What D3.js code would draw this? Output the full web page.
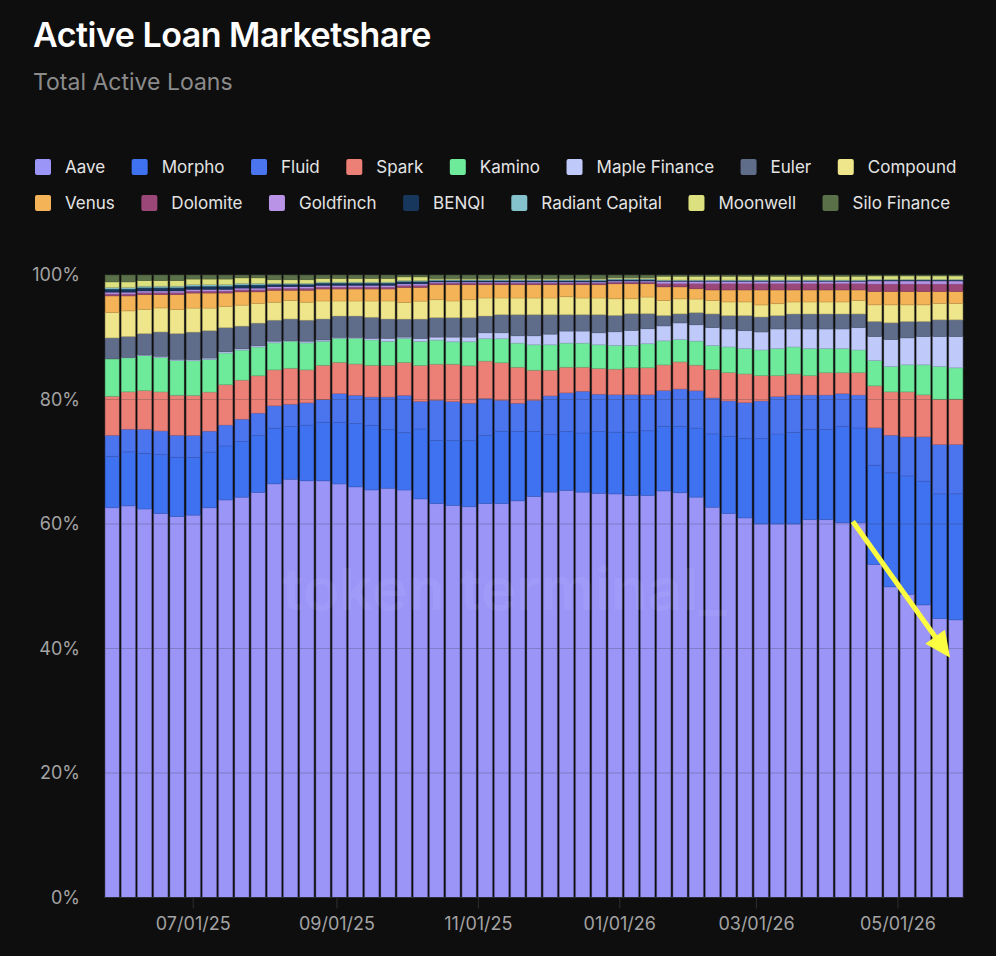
<!DOCTYPE html>
<html>
<head>
<meta charset="utf-8">
<script src="https://cdn.jsdelivr.net/npm/d3@7"></script>
<style>
  body { margin: 0; background: #0e0e0e; }
  svg { display: block; font-family: Inter, "Noto Sans", sans-serif; }
</style>
</head>
<body>
<svg id="chart" width="996" height="956"></svg>
<script>
// protocols, bottom of the stack first
const protocols = ["Aave", "Morpho", "Fluid", "Spark", "Kamino", "Maple Finance", "Euler", "Compound",
  "Venus", "Dolomite", "Goldfinch", "BENQI", "Radiant Capital", "Moonwell", "Silo Finance"];
const protocolColors = ["#9b95f8", "#3f72f1", "#4b74ef", "#ec8077", "#6deb9b", "#bfcafb", "#5f6c8a", "#efe58a",
  "#f4b357", "#9b4879", "#b893e6", "#17375d", "#84c3cb", "#dde07e", "#5a7049"];

const firstWeek = "2025-05-27";  // weekly bars

// share of active loans, % (53 weeks)
const aave = [62.6, 62.9, 62.4, 61.7, 61.2, 61.4, 62.6, 63.9, 64.3, 65.1,
  66.5, 67.2, 67.0, 67.0, 66.5, 66.0, 65.5, 65.8, 65.5, 64.1,
  63.2, 62.9, 62.7, 63.2, 63.2, 63.6, 64.3, 65.0, 65.3, 65.0,
  64.8, 64.8, 64.6, 64.6, 65.3, 65.0, 64.3, 62.7, 61.7, 61.0,
  60.0, 60.0, 60.0, 60.7, 60.7, 60.2, 60.2, 53.5, 49.9, 48.7,
  47.0, 44.8, 44.6];
const morpho = [8.25, 8.67, 8.94, 9.48, 9.53, 9.26, 8.94, 8.67, 8.94, 9.16,
  8.94, 8.46, 8.94, 9.42, 9.91, 10.17, 10.39, 9.42, 9.21, 11.24,
  10.12, 10.39, 10.6, 10.92, 11.62, 11.14, 10.44, 9.21, 9.42, 9.48,
  9.91, 9.91, 10.17, 10.39, 10.39, 10.66, 11.08, 11.78, 12.42, 12.74,
  13.71, 14.46, 14.73, 14.51, 14.51, 15.48, 15.21, 15.96, 18.31, 19.01,
  19.87, 20.03, 20.24];
const fluid = [3.37, 3.64, 3.86, 3.8, 3.53, 3.53, 3.37, 3.37, 3.59, 3.59,
  3.59, 3.59, 3.59, 3.64, 4.61, 4.55, 4.55, 5.25, 6.0, 4.44,
  6.48, 6.27, 6.0, 5.94, 4.98, 4.5, 4.98, 6.21, 6.21, 6.69,
  6.0, 6.0, 6.0, 5.78, 5.73, 6.0, 6.0, 5.78, 5.68, 5.78,
  6.05, 6.0, 6.0, 5.52, 5.52, 5.25, 5.3, 6.0, 6.05, 6.27,
  7.12, 7.93, 7.93];
const spark = [6.27, 6.0, 6.21, 6.27, 6.43, 6.43, 6.27, 6.48, 6.27, 6.0,
  5.78, 5.78, 5.3, 5.52, 5.03, 5.03, 5.09, 5.09, 5.3, 5.78,
  5.78, 6.0, 6.0, 6.0, 6.0, 5.78, 4.82, 4.12, 4.12, 3.86,
  4.12, 4.12, 4.34, 4.34, 4.12, 4.34, 4.12, 4.55, 4.55, 4.61,
  4.07, 3.37, 3.37, 3.11, 3.59, 3.37, 3.59, 6.75, 6.96, 7.23,
  6.75, 7.28, 7.28];
const kamino = [6.0, 5.46, 5.62, 5.52, 5.57, 5.57, 5.25, 5.09, 4.82, 4.61,
  4.34, 4.34, 4.34, 3.86, 3.86, 4.12, 4.07, 3.86, 3.86, 3.86,
  3.86, 3.59, 3.86, 3.59, 3.86, 3.86, 4.07, 4.07, 3.86, 3.86,
  3.8, 3.8, 3.59, 3.86, 3.86, 3.59, 3.86, 3.86, 4.12, 4.07,
  4.12, 4.34, 4.34, 4.34, 3.86, 3.86, 3.64, 4.07, 4.07, 4.34,
  4.82, 5.25, 5.03];
const maple = [0, 0.05, 0.1, 0.21, 0.21, 0.21, 0.21, 0.21, 0.21, 0.21,
  0.27, 0.1, 0.27, 0.21, 0.16, 0.16, 0.27, 0.48, 0.21, 0.48,
  0.48, 0.75, 0.75, 0.96, 0.96, 1.18, 1.45, 1.71, 1.93, 1.93,
  1.93, 2.2, 2.41, 2.41, 2.41, 2.68, 2.62, 2.89, 2.89, 2.89,
  2.89, 3.16, 2.89, 3.16, 3.16, 3.16, 3.59, 3.86, 4.34, 4.34,
  4.55, 4.82, 5.03];
const euler = [3.37, 3.37, 3.43, 3.91, 4.12, 4.39, 4.39, 3.86, 3.64, 3.64,
  3.37, 3.48, 3.37, 3.37, 3.43, 3.43, 3.37, 3.11, 2.89, 3.11,
  3.11, 3.11, 3.11, 2.68, 2.89, 3.37, 3.37, 3.11, 2.62, 2.62,
  2.89, 2.62, 2.68, 2.41, 1.66, 1.45, 1.93, 2.2, 2.14, 2.41,
  2.41, 2.14, 2.41, 2.41, 2.41, 2.41, 2.2, 2.41, 2.68, 2.62,
  2.41, 2.68, 2.68];
const compound = [4.07, 4.12, 3.91, 3.86, 3.86, 3.86, 3.64, 3.43, 3.37, 3.16,
  2.89, 2.95, 2.89, 2.89, 2.41, 2.41, 2.62, 2.89, 2.68, 2.89,
  2.89, 2.68, 2.89, 2.89, 2.68, 2.68, 2.68, 2.68, 2.89, 2.68,
  2.68, 2.68, 2.41, 2.68, 2.41, 2.41, 2.2, 2.14, 2.2, 2.2,
  1.93, 1.93, 1.93, 1.93, 1.93, 1.93, 2.14, 2.68, 2.89, 2.68,
  2.68, 2.62, 2.62];
const venus = [2.68, 2.41, 2.36, 2.14, 2.41, 2.41, 2.41, 2.14, 2.14, 1.87,
  1.93, 1.66, 1.93, 1.93, 1.93, 1.93, 1.93, 1.93, 2.41, 2.2,
  2.41, 2.62, 2.41, 2.14, 2.14, 2.14, 2.14, 2.14, 1.93, 2.14,
  2.14, 2.41, 2.41, 2.14, 2.2, 1.93, 1.66, 1.71, 1.93, 1.93,
  2.41, 2.2, 1.93, 1.93, 1.93, 1.93, 1.71, 2.14, 2.14, 2.14,
  2.14, 1.93, 1.93];
const dolomite = [0.3, 0.3, 0.3, 0.3, 0.3, 0.3, 0.3, 0.3, 0.3, 0.3,
  0.3, 0.3, 0.3, 0.3, 0.3, 0.3, 0.3, 0.3, 0.3, 0.3,
  0.25, 0.25, 0.25, 0.25, 0.25, 0.25, 0.25, 0.25, 0.25, 0.25,
  0.25, 0.25, 0.25, 0.25, 0.5, 0.5, 0.8, 1.0, 1.0, 1.0,
  1.0, 1.0, 1.0, 1.0, 1.0, 1.0, 1.0, 1.2, 1.2, 1.2,
  1.2, 1.2, 1.2];
const goldfinch = [0.3, 0.3, 0.3, 0.3, 0.3, 0.3, 0.3, 0.3, 0.3, 0.3,
  0.3, 0.3, 0.3, 0.3, 0.3, 0.3, 0.3, 0.3, 0.3, 0.3,
  0.2, 0.2, 0.2, 0.2, 0.2, 0.2, 0.2, 0.2, 0.2, 0.2,
  0.2, 0.2, 0.2, 0.2, 0.4, 0.4, 0.4, 0.4, 0.4, 0.4,
  0.4, 0.4, 0.4, 0.4, 0.4, 0.4, 0.4, 0.5, 0.5, 0.5,
  0.5, 0.5, 0.5];
const benqi = [0.5, 0.5, 0.5, 0.5, 0.5, 0.5, 0.5, 0.5, 0.5, 0.5,
  0.35, 0.35, 0.35, 0.35, 0.35, 0.35, 0.35, 0.35, 0.35, 0.35,
  0.2, 0.2, 0.2, 0.2, 0.2, 0.2, 0.2, 0.2, 0.2, 0.2,
  0.2, 0.2, 0.2, 0.2, 0.1, 0.1, 0.1, 0.1, 0.1, 0.1,
  0.1, 0.1, 0.1, 0.1, 0.1, 0.1, 0.1, 0.15, 0.15, 0.15,
  0.15, 0.15, 0.15];
const radiant = [0.25, 0.25, 0.25, 0.25, 0.25, 0.25, 0.25, 0.25, 0.25, 0.25,
  0.15, 0.15, 0.15, 0.15, 0.15, 0.15, 0.15, 0.15, 0.15, 0.15,
  0.15, 0.15, 0.15, 0.15, 0.15, 0.15, 0.15, 0.15, 0.15, 0.15,
  0.15, 0.15, 0.15, 0.15, 0.1, 0.1, 0.1, 0.1, 0.1, 0.1,
  0.1, 0.1, 0.1, 0.1, 0.1, 0.1, 0.1, 0.1, 0.1, 0.1,
  0.1, 0.1, 0.1];
const moonwell = [0.9, 0.9, 0.9, 0.9, 0.9, 0.9, 0.9, 0.9, 0.9, 0.9,
  0.6, 0.6, 0.6, 0.6, 0.6, 0.6, 0.6, 0.6, 0.6, 0.6,
  0.2, 0.2, 0.2, 0.2, 0.2, 0.2, 0.2, 0.2, 0.2, 0.2,
  0.2, 0.2, 0.2, 0.2, 0.6, 0.6, 0.6, 0.6, 0.6, 0.6,
  0.6, 0.6, 0.6, 0.6, 0.6, 0.6, 0.6, 0.55, 0.55, 0.55,
  0.55, 0.55, 0.55];
const silo = [1.1, 1.1, 0.9, 0.9, 0.9, 0.65, 0.65, 0.65, 0.45, 0.45,
  0.75, 0.75, 0.75, 0.55, 0.55, 0.55, 0.55, 0.55, 0.3, 0.3,
  0.55, 0.55, 0.55, 0.55, 0.55, 0.55, 0.55, 0.55, 0.55, 0.55,
  0.55, 0.4, 0.4, 0.4, 0.2, 0.2, 0.2, 0.2, 0.2, 0.2,
  0.2, 0.2, 0.2, 0.2, 0.2, 0.2, 0.2, 0.15, 0.15, 0.15,
  0.15, 0.15, 0.15];

const seriesValues = [aave, morpho, fluid, spark, kamino, maple, euler, compound,
  venus, dolomite, goldfinch, benqi, radiant, moonwell, silo];

const tickDates = ["2025-07-01", "2025-09-01", "2025-11-01", "2026-01-01", "2026-03-01", "2026-05-01"];
const yTicks = [0, 0.2, 0.4, 0.6, 0.8, 1];

// annotation arrow, in (week index, share) terms
const arrowFrom = [45.65, 0.604];
const arrowTo = [51.65, 0.385];

const width = 996, height = 956;
const margin = {top: 275, right: 32, bottom: 58.5, left: 104};

const svg = d3.select("#chart");
svg.append("rect").attr("width", width).attr("height", height).attr("fill", "#0e0e0e");

const parse = d3.utcParse("%Y-%m-%d");
const week0 = parse(firstWeek);
const weeks = aave.map((d, i) => d3.utcDay.offset(week0, 7 * i));

const rows = weeks.map((date, i) => {
  let r = {date: date};
  protocols.forEach((p, j) => r[p] = seriesValues[j][i]);
  return r;
});

const stacked = d3.stack().keys(protocols).offset(d3.stackOffsetExpand)(rows);

let x = d3.scaleUtc()
  .domain([d3.utcHour.offset(weeks[0], -84), d3.utcHour.offset(weeks[weeks.length - 1], 84)])
  .range([margin.left, width - margin.right]);
let y = d3.scaleLinear().domain([0, 1]).range([height - margin.bottom, margin.top]);
let color = d3.scaleOrdinal().domain(protocols).range(protocolColors);

const step = x(weeks[1]) - x(weeks[0]);
const barW = step * 0.86;

// title
svg.append("text").attr("x", 33).attr("y", 47)
  .attr("fill", "#ffffff").style("font-size", "34px").style("font-weight", 600)
  .style("letter-spacing", "-0.5px")
  .text("Active Loan Marketshare");
svg.append("text").attr("x", 33).attr("y", 90)
  .attr("fill", "#8b8b8b").style("font-size", "23px")
  .text("Total Active Loans");

// legend
let legendRows = [protocols.slice(0, 8), protocols.slice(8)];
legendRows.forEach((items, r) => {
  let lx = 35;
  let ly = 167 + r * 36;
  items.forEach(name => {
    svg.append("rect").attr("x", lx).attr("y", ly - 8).attr("width", 16).attr("height", 16)
      .attr("rx", 2).attr("fill", color(name));
    let t = svg.append("text").attr("x", lx + 30).attr("y", ly)
      .attr("dy", "0.35em").attr("fill", "#e4e4e4").style("font-size", "17px")
      .text(name);
    lx = lx + 30 + t.node().getComputedTextLength() + 26.5;
  });
});

// bars
let layers = svg.append("g").selectAll("g")
  .data(stacked)
  .enter()
  .append("g")
  .attr("fill", d => color(d.key))
  .attr("stroke", d => d3.color(color(d.key)).darker(0.6))
  .attr("stroke-opacity", 0.6)
  .attr("stroke-width", 0.8);

layers.selectAll("rect")
  .data(d => d)
  .enter()
  .append("rect")
  .attr("x", d => x(d.data.date) - barW / 2)
  .attr("y", d => y(d[1]))
  .attr("width", barW)
  .attr("height", d => Math.max(0, y(d[0]) - y(d[1])));

// grid
svg.append("g").selectAll("line")
  .data(yTicks)
  .enter()
  .append("line")
  .attr("x1", margin.left).attr("x2", width - margin.right)
  .attr("y1", d => y(d)).attr("y2", d => y(d))
  .attr("stroke", "#333333").attr("stroke-opacity", 0.25);

// watermark
svg.append("text")
  .attr("x", 282).attr("y", 610)
  .attr("textLength", 445).attr("lengthAdjust", "spacingAndGlyphs")
  .attr("fill", "#ffffff").attr("fill-opacity", 0.06)
  .style("font-size", "58px").style("font-weight", 600)
  .text("token terminal_");

// y axis labels
svg.append("g").selectAll("text")
  .data(yTicks)
  .enter()
  .append("text")
  .attr("x", 80).attr("y", d => y(d))
  .attr("dy", "0.35em").attr("text-anchor", "end")
  .attr("fill", "#a3a3a3").style("font-size", "18px")
  .text(d3.format(".0%"));

// x axis
svg.append("line")
  .attr("x1", margin.left).attr("x2", width - margin.right)
  .attr("y1", y(0)).attr("y2", y(0))
  .attr("stroke", "#2c2c36");

let xt = svg.append("g").selectAll("g")
  .data(tickDates.map(parse))
  .enter()
  .append("g")
  .attr("transform", d => "translate(" + x(d) + ",0)");
xt.append("line").attr("y1", y(0)).attr("y2", y(0) + 11).attr("stroke", "#2e2e2e");
xt.append("text")
  .attr("y", y(0) + 32).attr("text-anchor", "middle")
  .attr("fill", "#a3a3a3").style("font-size", "18px")
  .text(d3.utcFormat("%m/%d/%y"));

// arrow annotation
const weekX = w => x(d3.utcHour.offset(week0, Math.round(w * 168)));
let ax0 = weekX(arrowFrom[0]), ay0 = y(arrowFrom[1]);
let ax1 = weekX(arrowTo[0]), ay1 = y(arrowTo[1]);
let len = Math.hypot(ax1 - ax0, ay1 - ay0);
let ux = (ax1 - ax0) / len, uy = (ay1 - ay0) / len;
let headL = 26, headW = 12;
let bx = ax1 - ux * headL, by = ay1 - uy * headL;
svg.append("line")
  .attr("x1", ax0).attr("y1", ay0).attr("x2", bx + ux * 2).attr("y2", by + uy * 2)
  .attr("stroke", "#fcfc40").attr("stroke-width", 5);
svg.append("path")
  .attr("d", d3.line()([[ax1, ay1], [bx - uy * headW, by + ux * headW], [bx + uy * headW, by - ux * headW]]) + "Z")
  .attr("fill", "#fcfc40");
</script>
</body>
</html>
